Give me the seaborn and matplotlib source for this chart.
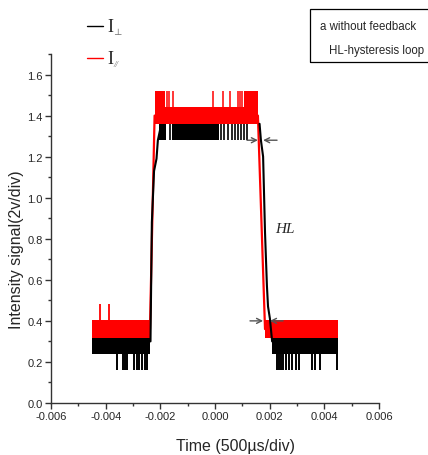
import numpy as np
import pandas as pd
import matplotlib
matplotlib.use("Agg")
import matplotlib.pyplot as plt
from matplotlib.lines import Line2D
from matplotlib.patches import Rectangle
from matplotlib.ticker import MultipleLocator, FormatStrFormatter
import seaborn as sns

# ---------------- I_perp trace (black) ----------------
perp_low_band = [0.24, 0.317]            # noise envelope of the low state
perp_high_band = [1.28, 1.36]            # noise envelope of the high state
perp_low_spans = [(-0.00451, -0.00236), (0.00209, 0.00450)]
perp_high_spans = [(-0.00205, -0.00178), (-0.00157, 0.00016)]
perp_high_glitches = [-0.00165, 0.00022, 0.00033, 0.00048, 0.00062, 0.00073,
                      0.00084, 0.00095, 0.00106, 0.00117]
perp_dip_level = 0.16
perp_dips = [-0.00359, -0.00337, -0.00329, -0.00322, -0.00296, -0.00285,
             -0.00278, -0.00267, -0.00256, -0.00249,
             0.00227, 0.00234, 0.00242, 0.00249, 0.00260, 0.00271, 0.00282,
             0.00296, 0.00307, 0.00355, 0.00366, 0.00384, 0.00446]
perp_rise_t = [-0.00236, -0.00231, -0.00223, -0.00214, -0.00209, -0.00201]
perp_rise_v = [0.30, 0.88, 1.13, 1.19, 1.28, 1.33]
perp_fall_t = [0.00163, 0.00168, 0.00176, 0.00183, 0.00190,
               0.00194, 0.00201, 0.00209]
perp_fall_v = [1.36, 1.28, 1.20, 0.83, 0.57, 0.47, 0.41, 0.30]

# ---------------- I_par trace (red) ----------------
par_low_band = [0.317, 0.405]
par_high_band = [1.36, 1.44]
par_low_spans = [(-0.00451, -0.00238), (0.00183, 0.00450)]
par_high_spans = [(-0.00221, 0.00157)]
par_low_spike_level = 0.48
par_low_spikes = [-0.00422, -0.00388]
par_high_spike_level = 1.52
par_high_spike_spans = [(-0.00220, -0.00184), (0.00106, 0.00157)]
par_high_spikes = [-0.00176, -0.00168, -0.00154, -0.00007, 0.00029,
                   0.00055, 0.00084, 0.00092, 0.00099]
par_rise_t = [-0.00238, -0.00221]
par_rise_v = [0.36, 1.40]
par_fall_t = [0.00157, 0.00183]
par_fall_v = [1.40, 0.36]

# hysteresis-loop markers (switching points of the two traces)
hl_levels = [1.28, 0.40]
hl_left_tails = [0.00117, 0.00128]
hl_left_heads = [0.00157, 0.00176]
hl_right_tails = [0.00227, 0.00249]
hl_right_heads = [0.00176, 0.00201]
hl_label_pos = (0.00256, 0.85)

x_ticks = [-0.006, -0.004, -0.002, 0.000, 0.002, 0.004, 0.006]
y_ticks = [0.0, 0.2, 0.4, 0.6, 0.8, 1.0, 1.2, 1.4, 1.6]

sns.set_style("ticks")
plt.rcParams["font.family"] = ["Liberation Sans", "DejaVu Sans"]
plt.rcParams["axes.unicode_minus"] = False
plt.rcParams["mathtext.fontset"] = "stix"

BLACK = "#000000"
RED = "#ff0000"
GRAY = "#555555"

fig = plt.figure(figsize=(4.28, 4.56), dpi=100)
ax = fig.add_axes([51 / 428, 52 / 456, 328 / 428, 349 / 456])


def draw_trace(spans_low, band_low, spans_high, band_high, color, z):
    for t0, t1 in spans_low:
        ax.fill_between([t0, t1], band_low[0], band_low[1], color=color,
                        lw=0, zorder=z)
    for t0, t1 in spans_high:
        ax.fill_between([t0, t1], band_high[0], band_high[1], color=color,
                        lw=0, zorder=z)


# black trace
draw_trace(perp_low_spans, perp_low_band, perp_high_spans, perp_high_band,
           BLACK, 2)
ax.vlines(perp_dips, perp_dip_level, perp_low_band[0], color=BLACK, lw=1.4,
          zorder=2)
ax.vlines(perp_high_glitches, perp_high_band[0], perp_high_band[1],
          color=BLACK, lw=1.2, zorder=2)

# red trace
draw_trace(par_low_spans, par_low_band, par_high_spans, par_high_band, RED, 3)
ax.vlines(par_low_spikes, par_low_band[1], par_low_spike_level, color=RED,
          lw=1.3, zorder=3)
ax.vlines(par_high_spikes, par_high_band[1], par_high_spike_level, color=RED,
          lw=1.1, zorder=3)
for t0, t1 in par_high_spike_spans:
    ax.fill_between([t0, t1], par_high_band[1], par_high_spike_level,
                    color=RED, lw=0, zorder=3)

# switching edges
edges = pd.concat([
    pd.DataFrame({"t": par_rise_t, "v": par_rise_v, "seg": "rise"}),
    pd.DataFrame({"t": par_fall_t, "v": par_fall_v, "seg": "fall"}),
])
sns.lineplot(data=edges, x="t", y="v", units="seg", estimator=None,
             sort=False, color=RED, lw=1.6, ax=ax, zorder=3)
edges_b = pd.concat([
    pd.DataFrame({"t": perp_rise_t, "v": perp_rise_v, "seg": "rise"}),
    pd.DataFrame({"t": perp_fall_t, "v": perp_fall_v, "seg": "fall"}),
])
sns.lineplot(data=edges_b, x="t", y="v", units="seg", estimator=None,
             sort=False, color=BLACK, lw=1.5, ax=ax, zorder=4)

# hysteresis arrows
for y, t0, h0, t1, h1 in zip(hl_levels, hl_left_tails, hl_left_heads,
                             hl_right_tails, hl_right_heads):
    for tail, head in ((t0, h0), (t1, h1)):
        ax.annotate("", xy=(head, y), xytext=(tail, y),
                    arrowprops=dict(arrowstyle="->", color=GRAY, lw=1.0,
                                    mutation_scale=9, shrinkA=0, shrinkB=0),
                    zorder=5)
ax.text(hl_label_pos[0], hl_label_pos[1], "HL", fontsize=11, style="italic",
        family=["Liberation Serif", "DejaVu Serif"], ha="center", va="center")

# axes
ax.set_xlim(-0.006, 0.006)
ax.set_ylim(0, 1.7)
ax.set_xticks(x_ticks)
ax.set_yticks(y_ticks)
ax.xaxis.set_major_formatter(FormatStrFormatter("%.3f"))
ax.yaxis.set_major_formatter(FormatStrFormatter("%.1f"))
ax.xaxis.set_minor_locator(MultipleLocator(0.001))
ax.yaxis.set_minor_locator(MultipleLocator(0.1))
ax.tick_params(which="major", direction="out", length=4, width=1,
               color="#333333", labelsize=8, pad=2)
ax.tick_params(which="minor", direction="out", length=2.5, width=1,
               color="#333333")
sns.despine(ax=ax)
for side in ("left", "bottom"):
    ax.spines[side].set_color("#333333")
    ax.spines[side].set_linewidth(1.0)
ax.set_xlabel("")
ax.set_ylabel("")

fig.text(235 / 428, 9 / 456, "Time (500\u00b5s/div)", fontsize=11.5,
         ha="center", va="center")
fig.text(17 / 428, (456 - 250) / 456, "Intensity signal(2v/div)",
         fontsize=11.5, rotation=90, ha="center", va="center")

# trace key
serif = ["Liberation Serif", "DejaVu Serif"]
for ypix, col, sub in ((27, BLACK, "\u22a5"), (59, RED, "//")):
    yf = (456 - ypix) / 456
    fig.add_artist(Line2D([87 / 428, 103 / 428], [yf, yf], color=col, lw=1.0))
    fig.text(107 / 428, yf, "I", fontsize=13, family=serif, ha="left",
             va="center")
    fig.text(113.5 / 428, yf - 6 / 456, sub, fontsize=6.5, family=serif,
             style="italic" if sub == "//" else "normal", color="#777777",
             ha="left", va="center")

# note box
fig.add_artist(Rectangle((310 / 428, (456 - 63) / 456), 0.4, 53 / 456,
                         transform=fig.transFigure, fill=False,
                         edgecolor=BLACK, lw=0.9))
fig.text(320 / 428, (456 - 27) / 456, "a without feedback", fontsize=8.3,
         ha="left", va="center")
fig.text(329 / 428, (456 - 51) / 456, "HL-hysteresis loop", fontsize=8.3,
         ha="left", va="center")

fig.savefig("out.png", dpi=100)
